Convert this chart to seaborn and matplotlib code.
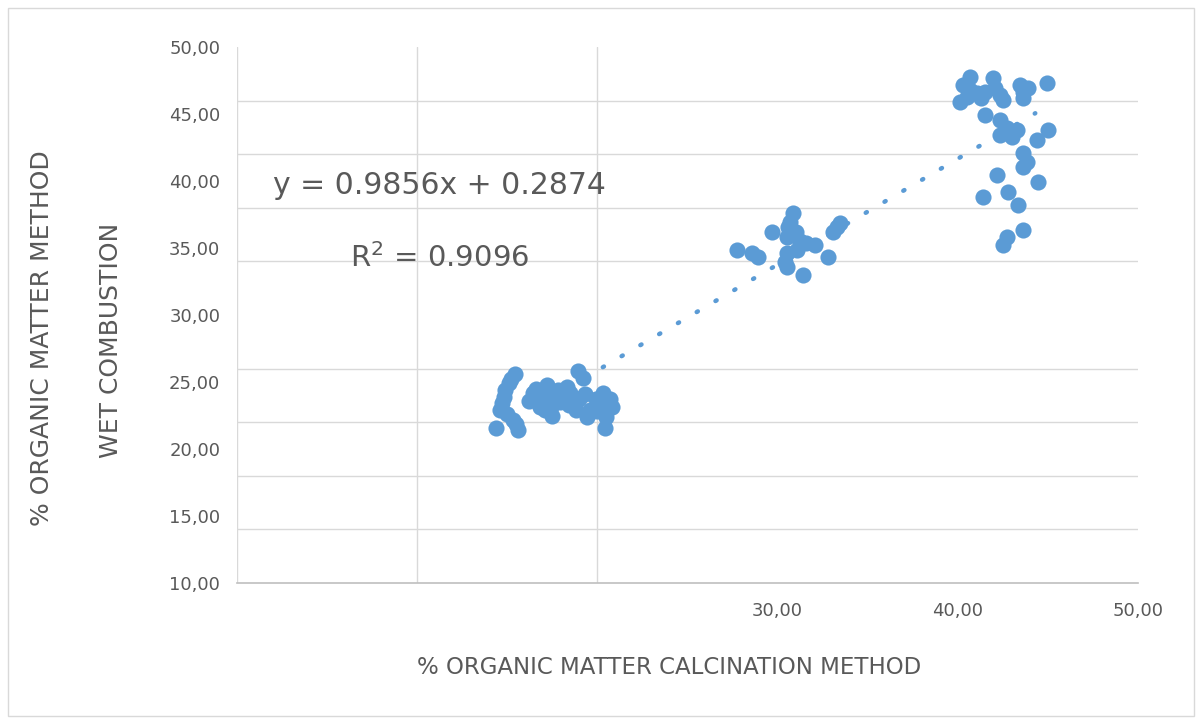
import numpy as np
import pandas as pd
import matplotlib
matplotlib.use("Agg")
import matplotlib.pyplot as plt
from matplotlib.patches import Rectangle
import seaborn as sns

# Data (x = calcination, y = wet combustion)
calcination = [
    14.4, 14.6, 14.7, 14.9, 15.2, 15.4, 15.0, 15.3, 15.6, 15.5, 14.8, 15.1,
    16.4, 16.8, 17.1, 17.2, 17.4, 17.6, 17.9, 18.1, 18.4, 18.5, 18.8, 18.9,
    19.2, 19.0, 19.4, 19.6, 19.9, 20.3, 20.5, 20.4, 20.7, 20.8, 17.0, 18.3,
    16.2, 16.6, 17.8, 18.7, 19.3, 20.0, 20.1, 17.5, 16.9,
    30.85, 30.7, 30.6, 29.7, 30.5, 33.3, 33.1, 33.45, 30.5, 31.25, 31.6, 31.05,
    30.5, 31.4, 32.8, 27.75, 28.6, 28.9, 30.4, 32.1, 31.0,
    40.7, 40.3, 40.7, 40.1, 41.05, 41.95, 42.05, 42.35, 43.45, 43.6, 43.6, 44.95,
    41.5, 42.35, 42.75, 42.35, 43.3, 43.0, 45.0, 44.4, 43.6, 43.85, 43.6, 42.2,
    44.45, 41.4, 42.8, 43.35, 43.6, 42.75, 42.5, 42.5, 41.5, 43.9, 40.5, 41.3,
]
wet_combustion = [
    21.6, 22.9, 23.4, 24.4, 25.2, 25.6, 22.6, 22.2, 21.4, 21.9, 23.9, 24.9,
    24.2, 23.1, 22.9, 24.8, 23.1, 24.0, 23.5, 23.7, 23.3, 24.2, 22.9, 25.8,
    25.3, 23.7, 22.4, 22.9, 23.7, 24.2, 22.4, 21.6, 23.7, 23.1, 24.3, 24.6,
    23.6, 24.5, 24.4, 23.8, 24.1, 22.8, 23.2, 22.5, 23.6,
    37.6, 36.95, 36.55, 36.2, 35.8, 36.55, 36.2, 36.85, 34.6, 35.5, 35.35, 34.85,
    33.6, 33.0, 34.35, 34.85, 34.6, 34.35, 33.95, 35.2, 36.2,
    47.75, 47.15, 46.8, 45.9, 46.55, 47.7, 46.95, 46.4, 47.15, 46.65, 46.2, 47.3,
    44.95, 44.55, 43.95, 43.45, 43.8, 43.3, 43.8, 43.05, 42.1, 41.4, 41.05, 40.45,
    39.95, 38.8, 39.2, 38.2, 36.35, 35.8, 35.2, 46.05, 46.65, 46.95, 46.3, 46.2,
]
trend_span = [20.3, 44.3]
equation_text = "y = 0.9856x + 0.2874"
r2_text = "R$^2$ = 0.9096"
x_ticks = [30, 40, 50]
x_tick_labels = ["30,00", "40,00", "50,00"]
y_ticks = [10, 15, 20, 25, 30, 35, 40, 45, 50]
y_tick_labels = ["10,00", "15,00", "20,00", "25,00", "30,00", "35,00", "40,00", "45,00", "50,00"]

df = pd.DataFrame({"calc": calcination, "wet": wet_combustion})

sns.set_theme(style="white")
plt.rcParams["font.family"] = ["DejaVu Sans"]

blue = "#5b9bd5"
text_gray = "#595959"
grid_gray = "#d9d9d9"

fig = plt.figure(figsize=(12.02, 7.24), dpi=100)
ax = fig.add_axes([237 / 1202, 1 - 583 / 724, (1138 - 237) / 1202, (583 - 47) / 724])

# gridlines drawn as minor ticks
ax.set_xlim(0, 50)
ax.set_ylim(10, 50)
ax.set_xticks(np.arange(0, 51, 10), minor=True)
ax.set_yticks(np.arange(10, 51, 4), minor=True)
ax.grid(True, which="minor", color=grid_gray, linewidth=1)
ax.grid(False, which="major")
ax.set_axisbelow(True)

sns.scatterplot(data=df, x="calc", y="wet", ax=ax, color=blue, s=135,
                linewidth=0, zorder=3)

# linear trendline
slope, intercept = np.polyfit(df["calc"], df["wet"], 1)
tx = np.array(trend_span)
ax.plot(tx, slope * tx + intercept, color=blue, linewidth=3.2,
        linestyle=(0, (0.3, 4.6)), dash_capstyle="round", zorder=2)

ax.set_xticks(x_ticks)
ax.set_xticklabels(x_tick_labels)
ax.set_yticks(y_ticks)
ax.set_yticklabels(y_tick_labels)
ax.tick_params(axis="both", length=0, labelsize=13, labelcolor=text_gray)
ax.tick_params(axis="x", pad=14)
ax.tick_params(axis="y", pad=12)
ax.set_xlabel("")
ax.set_ylabel("")

for side in ["top", "right", "left"]:
    ax.spines[side].set_visible(False)
ax.spines["bottom"].set_color("#bfbfbf")
ax.spines["bottom"].set_linewidth(1.2)

fig.text(273 / 1202, 1 - 185 / 724, equation_text,
         fontsize=21.5, color=text_gray, ha="left", va="center")
fig.text(440 / 1202, 1 - 258 / 724, r2_text,
         fontsize=21, color=text_gray, ha="center", va="center")

fig.text(669 / 1202, 1 - 668 / 724, "% ORGANIC MATTER CALCINATION METHOD",
         fontsize=16.5, color=text_gray, ha="center", va="center")
fig.text(42 / 1202, 1 - 338 / 724, "% ORGANIC MATTER METHOD",
         fontsize=18, color=text_gray, ha="center", va="center", rotation=90)
fig.text(111 / 1202, 1 - 340 / 724, "WET COMBUSTION",
         fontsize=18, color=text_gray, ha="center", va="center", rotation=90)

fig.patches.append(Rectangle((8 / 1202, 8 / 724), 1186 / 1202, 708 / 724,
                             transform=fig.transFigure, fill=False,
                             edgecolor=grid_gray, linewidth=1))

fig.savefig("out.png", dpi=100)
